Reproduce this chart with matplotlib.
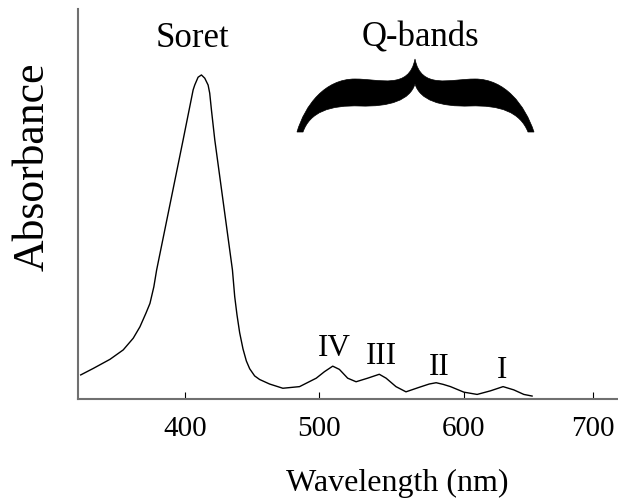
import numpy as np
import matplotlib
matplotlib.use("Agg")
import matplotlib.pyplot as plt
from matplotlib.path import Path
from matplotlib.patches import PathPatch
from matplotlib.transforms import Affine2D

plt.rcParams['font.family'] = ['Liberation Serif', 'DejaVu Serif']

# ---- data ----
wavelength = [321.9, 331.3, 343.8, 353.7, 361.2, 366.2, 370.7, 373.7, 376.6, 378.7,
              398.5, 406.0, 407.2, 409.7, 412.2, 414.7, 417.2, 418.4, 419.7, 422.2,
              435.4, 437.1, 438.8, 440.8, 443.3, 445.8, 448.3, 452.0, 455.7, 463.2,
              473.1, 485.6, 498.1, 503.9, 509.6, 514.2, 519.9, 525.7, 533.7, 541.7,
              546.4, 553.2, 560.1, 569.3, 576.1, 580.9, 585.7, 590.8, 600.0, 610.3,
              620.6, 630.4, 638.7, 646.5, 652.9]
absorbance = [0.075, 0.095, 0.123, 0.152, 0.188, 0.223, 0.265, 0.295, 0.346, 0.398,
              0.798, 0.952, 0.967, 0.991, 0.998, 0.988, 0.967, 0.942, 0.890, 0.798,
              0.398, 0.316, 0.260, 0.205, 0.155, 0.118, 0.094, 0.072, 0.061, 0.047,
              0.034, 0.039, 0.065, 0.085, 0.102, 0.092, 0.065, 0.054, 0.065, 0.077,
              0.065, 0.039, 0.023, 0.037, 0.047, 0.051, 0.046, 0.039, 0.022, 0.015,
              0.026, 0.039, 0.029, 0.015, 0.010]

tick_values = [400, 500, 600, 700]
tick_labels = ['400', '500', '600', '700']

band_labels = ['Soret', 'IV', 'III', 'II', 'I']
band_x = [405.2, 510.8, 543.3, 582.9, 629.6]
band_y = [1.085, 0.133, 0.108, 0.075, 0.065]
q_label = 'Q-bands'
q_x, q_y = 570.4, 1.085

# ---- hand-drawn (non-uniform) wavelength axis of the original figure ----
_nm_breaks = np.array([0.0, 400.0, 500.0, 600.0, 700.0, 1000.0])
_pos_breaks = np.array([-350.7, 185.3, 319.3, 464.7, 594.0, 981.9])


def _fwd(x):
    return np.interp(x, _nm_breaks, _pos_breaks)


def _inv(p):
    return np.interp(p, _pos_breaks, _nm_breaks)


W, H = 618, 498
fig = plt.figure(figsize=(W / 100, H / 100), dpi=100)
ax = fig.add_axes([78.3 / W, (H - 399.3) / H, 1 - 78.3 / W, 390 / H])

ax.set_xscale('function', functions=(_fwd, _inv))
ax.plot(wavelength, absorbance, color='black', lw=1.0)
ax.set_xlim(320.1, 719.5)
ax.set_ylim(0, 1.2)

for s in ['top', 'right']:
    ax.spines[s].set_visible(False)
for s in ['left', 'bottom']:
    ax.spines[s].set_color('#707070')
    ax.spines[s].set_linewidth(1.5)

ax.set_xticks(tick_values)
ax.set_xticklabels(tick_labels)
ax.xaxis.set_minor_locator(matplotlib.ticker.NullLocator())
ax.set_yticks([])
ax.tick_params(axis='x', direction='in', length=5, width=0.8, color='black',
               pad=12, labelsize=21)

ax.set_xlabel('Wavelength (nm)', fontsize=23)
ax.xaxis.set_label_coords(0.5915, -0.2344)
ax.xaxis.label.set_va('baseline')
ax.set_ylabel('Absorbance', fontsize=31.5)
ax.yaxis.set_label_coords(-0.0649, 0.597)
ax.yaxis.label.set_va('baseline')
ax.yaxis.label.set_rotation_mode('anchor')

for lab, x, y in zip(band_labels, band_x, band_y):
    fs = 25 if lab == 'Soret' else 22.5
    ax.text(x, y, lab, ha='center', va='baseline', fontsize=fs)
ax.text(q_x, q_y, q_label, ha='center', va='baseline', fontsize=25)

# ---- curly brace over the Q-bands ----
verts = [(297, 132),
         (305, 105), (325, 79), (355, 79),
         (380, 79), (409, 90), (415, 59),
         (421, 90), (450, 79), (475, 79),
         (505, 79), (525, 105), (534, 132),
         (528, 132),
         (520, 112), (500, 105), (470, 106),
         (440, 107), (420, 100), (415, 84),
         (410, 100), (390, 107), (360, 106),
         (330, 105), (310, 112), (303, 132),
         (297, 132)]
codes = ([Path.MOVETO] + [Path.CURVE4] * 12 + [Path.LINETO] + [Path.CURVE4] * 12
         + [Path.CLOSEPOLY])
brace = Path(verts, codes)
tr = Affine2D().scale(1 / W, -1 / H).translate(0, 1) + fig.transFigure
fig.patches.append(PathPatch(brace, transform=tr, facecolor='black',
                             edgecolor='black', lw=0.5))

fig.savefig('out.png', dpi=100)
